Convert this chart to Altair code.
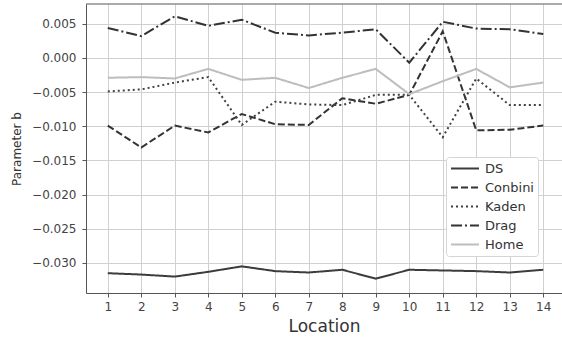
import altair as alt
import pandas as pd

locations = list(range(1, 15))
ds = [-0.0315, -0.0317, -0.0320, -0.0313, -0.0305, -0.0312, -0.0314, -0.0310, -0.0323, -0.0310, -0.0311, -0.0312, -0.0314, -0.0310]
conbini = [-0.0099, -0.0131, -0.0099, -0.0109, -0.0082, -0.0097, -0.0098, -0.0059, -0.0067, -0.0054, 0.0039, -0.0106, -0.0105, -0.0099]
kaden = [-0.0049, -0.0046, -0.0036, -0.0028, -0.0098, -0.0064, -0.0068, -0.0069, -0.0054, -0.0054, -0.0116, -0.0030, -0.0069, -0.0069]
drag = [0.0044, 0.0032, 0.0061, 0.0047, 0.0056, 0.0037, 0.0033, 0.0037, 0.0042, -0.0007, 0.0053, 0.0043, 0.0042, 0.0035]
home = [-0.0029, -0.0028, -0.0030, -0.0016, -0.0032, -0.0029, -0.0044, -0.0029, -0.0016, -0.0053, -0.0034, -0.0016, -0.0043, -0.0036]

series_names = ["DS", "Conbini", "Kaden", "Drag", "Home"]
series_values = [ds, conbini, kaden, drag, home]
series_colors = ["#3c3c3c", "#333333", "#404040", "#333333", "#bdbdbd"]
series_dashes = [[1, 0], [7, 3], [2, 3], [11, 3, 2, 3], [1, 0]]

y_ticks = [0.005, 0.0, -0.005, -0.010, -0.015, -0.020, -0.025, -0.030]

rows = []
for name, vals in zip(series_names, series_values):
    for loc, v in zip(locations, vals):
        rows.append({"Location": loc, "b": v, "Series": name})
df = pd.DataFrame(rows)

W, H = 476, 289
FONT = "DejaVu Sans"

legend_opts = dict(title=None, orient="none", legendX=360, legendY=153,
                   fillColor="white", strokeColor="#d5d5d5",
                   cornerRadius=3, padding=4,
                   labelFontSize=13, labelColor="#333333", labelFont=FONT,
                   symbolType="stroke", symbolSize=784,
                   symbolStrokeWidth=2, labelOffset=5, rowPadding=4, clipHeight=15)

lines = alt.Chart(df).mark_line(strokeWidth=2).encode(
    x=alt.X("Location:Q",
            scale=alt.Scale(domain=[0.35, 14.56], nice=False, zero=False),
            axis=alt.Axis(values=locations, title="Location", format="d",
                          titleFontSize=17, titleFontWeight="normal", titleColor="#333333",
                          titlePadding=6)),
    y=alt.Y("b:Q",
            scale=alt.Scale(domain=[-0.0344, 0.0079], nice=False, zero=False),
            axis=alt.Axis(values=y_ticks, format=".3f", title="Parameter b",
                          titleFontSize=12, titleFontWeight="normal", titleColor="#333333",
                          titlePadding=8)),
    color=alt.Color("Series:N",
                    scale=alt.Scale(domain=series_names, range=series_colors),
                    legend=alt.Legend(**legend_opts)),
    strokeDash=alt.StrokeDash("Series:N",
                              scale=alt.Scale(domain=series_names, range=series_dashes),
                              legend=alt.Legend(**legend_opts)),
)

top_border = alt.Chart(pd.DataFrame({"a": [0]})).mark_rule(color="#555555", strokeWidth=1).encode(
    y=alt.value(0), x=alt.value(0), x2=alt.value(W)
)

chart = alt.layer(lines, top_border).properties(
    width=W, height=H,
    autosize=alt.AutoSizeParams(type="none"),
    padding={"left": 86, "top": 4, "right": 0, "bottom": 46},
).configure_view(stroke=None).configure_axis(
    grid=True, gridColor="#d0d0d0", gridWidth=1,
    domainColor="#555555", domainWidth=1,
    tickColor="#555555", tickSize=4,
    labelFont=FONT, labelFontSize=12, labelColor="#444444", labelPadding=4,
    titleFont=FONT,
).configure_axisY(labelPadding=6)

chart.save("out.html", embed_options={"renderer": "svg", "actions": False})
